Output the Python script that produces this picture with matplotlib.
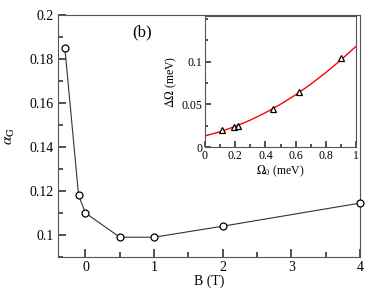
import matplotlib
matplotlib.use("Agg")
import matplotlib.pyplot as plt
from matplotlib.ticker import MultipleLocator

plt.rcParams['font.family'] = ['Liberation Serif', 'DejaVu Serif']
plt.rcParams['mathtext.fontset'] = 'stix'

# main panel: damping vs field
B = [-0.3, -0.1, 0.0, 0.5, 1.0, 2.0, 4.0]
alpha_G = [0.185, 0.118, 0.110, 0.099, 0.099, 0.104, 0.1145]

# inset: linewidth vs frequency
omega0 = [0.11, 0.19, 0.22, 0.45, 0.62, 0.90]
d_omega = [0.020, 0.023, 0.025, 0.045, 0.064, 0.104]
# fitted curve
fit_x = [0.0, 0.1, 0.2, 0.3, 0.4, 0.5, 0.6, 0.7, 0.8, 0.9, 1.0]
fit_y = [0.013, 0.0179, 0.0241, 0.0315, 0.0402, 0.0501, 0.0612, 0.0736, 0.0872, 0.1021, 0.118]

tick_col = '#222222'

fig = plt.figure(figsize=(3.74, 2.89), dpi=100)
ax = fig.add_axes([58/374, 1 - 257/289, (360-58)/374, (257-15)/289])
ax.plot(B, alpha_G, color='#333333', lw=0.8, marker='o', ms=5,
        mfc='white', mec='black', mew=0.9, clip_on=False, zorder=3)
ax.set_xticks([0, 1, 2, 3, 4])
ax.xaxis.set_minor_locator(MultipleLocator(0.5))
ax.set_yticks([0.1, 0.12, 0.14, 0.16, 0.18, 0.2])
ax.set_yticklabels(['0.1', '0.12', '0.14', '0.16', '0.18', '0.2'])
ax.yaxis.set_minor_locator(MultipleLocator(0.01))
ax.set_xlim(-0.4, 4)
ax.set_ylim(0.09, 0.2)
ax.tick_params(axis='both', which='major', direction='in', length=6, width=1.1,
               color=tick_col, labelsize=10, pad=3)
ax.tick_params(axis='both', which='minor', direction='in', length=3.5, width=1.1,
               color=tick_col)
for s in ax.spines.values():
    s.set_color('#555555')
ax.set_xlabel('B (T)', fontsize=10, labelpad=0)
ax.set_ylabel(r'$\alpha_{\rm G}$', fontsize=11, labelpad=9)
ax.text(0.28, 0.93, '(b)', transform=ax.transAxes, fontsize=12, ha='center', va='center')

ins = fig.add_axes([205/374, 1 - 147/289, (356-205)/374, (147-16)/289])
ins.plot(fit_x, fit_y, color='red', lw=1.0)
ins.plot(omega0, d_omega, ls='none', marker='^', ms=5, mfc='white', mec='black', mew=0.9)
ins.set_xticks([0, 0.2, 0.4, 0.6, 0.8, 1.0])
ins.set_xticklabels(['0', '0.2', '0.4', '0.6', '0.8', '1'])
ins.xaxis.set_minor_locator(MultipleLocator(0.1))
ins.set_yticks([0, 0.05, 0.1])
ins.set_yticklabels(['0', '0.05', '0.1'])
ins.yaxis.set_minor_locator(MultipleLocator(0.025))
ins.set_xlim(0, 1)
ins.set_ylim(0, 0.1536)
ins.tick_params(axis='both', which='major', direction='in', length=4.5, width=1.1,
                color=tick_col, labelsize=8.5, pad=2)
ins.tick_params(axis='both', which='minor', direction='in', length=2.5, width=1.1,
                color=tick_col)
for s in ins.spines.values():
    s.set_color('#555555')
ins.set_xlabel(r'$\Omega_0$ (meV)', fontsize=8.5, labelpad=1)
ins.set_ylabel(r'$\Delta\Omega$ (meV)', fontsize=8.5, labelpad=2)

fig.savefig('out.png', dpi=100)
